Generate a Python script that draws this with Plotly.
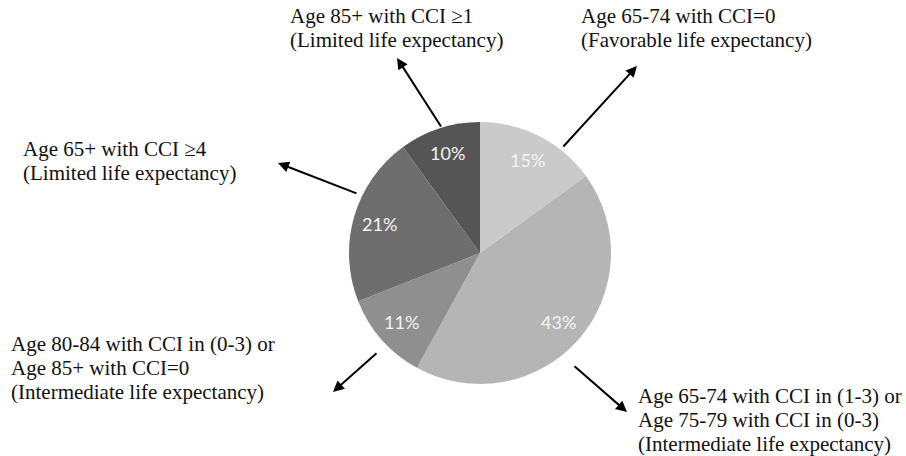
import numpy as np
import plotly.graph_objects as go

# Share of patients by life-expectancy group (clockwise from 12 o'clock)
groups = [
    ["Age 65-74 with CCI=0", "(Favorable life expectancy)"],
    ["Age 65-74 with CCI in (1-3) or", "Age 75-79 with CCI in (0-3)", "(Intermediate life expectancy)"],
    ["Age 80-84 with CCI in (0-3) or", "Age 85+ with CCI=0", "(Intermediate life expectancy)"],
    ["Age 65+ with CCI \u22654", "(Limited life expectancy)"],
    ["Age 85+ with CCI \u22651", "(Limited life expectancy)"],
]
shares = [15, 43, 11, 21, 10]
colors = ["#cacaca", "#b5b5b5", "#8f8f8f", "#6e6e6e", "#555555"]

# Callout placement: block anchor (left edge, first-line middle), arrow tail, arrow head
label_pos = [(580, 16), (637, 396), (10, 344), (22, 149), (289, 16)]
arrow_tail = [(562, 148), (573, 365), (378, 352), (358, 194), (442, 128)]
arrow_head = [(637, 66), (627, 412), (333, 392), (278, 163), (397, 58)]
line_gap = 24.2

W, H = 906, 456
cx, cy, r = 480, 253, 131

fig = go.Figure()
fig.add_trace(go.Pie(
    values=shares,
    labels=[g[0] for g in groups],
    sort=False,
    direction="clockwise",
    rotation=0,
    marker=dict(colors=colors, line=dict(width=0)),
    textinfo="none",
    hoverinfo="skip",
    showlegend=False,
    domain=dict(x=[(cx - r) / W, (cx + r) / W], y=[(H - cy - r) / H, (H - cy + r) / H]),
))

annotations = []

# Percent labels at ~80% radius along each slice's mid angle
total = float(sum(shares))
start = 0.0
for v in shares:
    mid = (start + v / 2) / total * 2 * np.pi
    start += v
    px = cx + 0.8 * r * np.sin(mid)
    py = cy - 0.8 * r * np.cos(mid)
    annotations.append(dict(
        x=px, y=py, xref="x", yref="y", text=f"{v}%", showarrow=False,
        xanchor="center", yanchor="middle",
        font=dict(family="Lato", size=18, color="#f4f4f4"),
    ))

# Callout text blocks and arrows
for lines, (lx, ly), (tx, ty), (hx, hy) in zip(groups, label_pos, arrow_tail, arrow_head):
    for i, line in enumerate(lines):
        annotations.append(dict(
            x=lx, y=ly + i * line_gap, xref="x", yref="y", text=line, showarrow=False,
            xanchor="left", yanchor="middle", align="left", borderpad=0,
            font=dict(family="Liberation Serif", size=21, color="#111111"),
        ))
    annotations.append(dict(
        x=hx, y=hy, ax=tx, ay=ty, xref="x", yref="y", axref="x", ayref="y",
        text="", showarrow=True, arrowhead=2, arrowsize=1.1, arrowwidth=2,
        arrowcolor="#000000",
    ))

fig.update_layout(
    width=W, height=H,
    margin=dict(l=0, r=0, t=0, b=0),
    paper_bgcolor="white", plot_bgcolor="white",
    xaxis=dict(range=[0, W], visible=False, fixedrange=True),
    yaxis=dict(range=[H, 0], visible=False, fixedrange=True),
    annotations=annotations,
)

fig.write_html("out.html")
